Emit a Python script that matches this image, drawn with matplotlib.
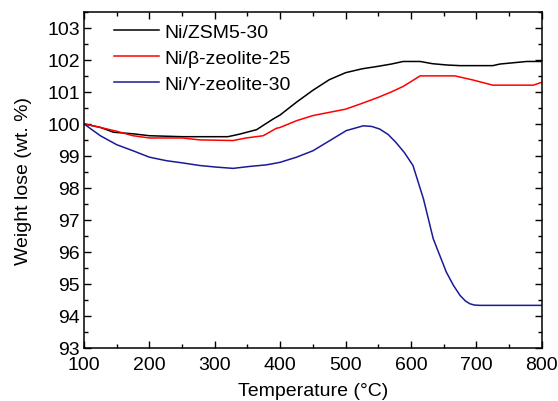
import numpy as np
import matplotlib.pyplot as plt
from matplotlib.ticker import MultipleLocator

plt.rcParams['font.family'] = ['Liberation Sans', 'DejaVu Sans']

# TGA curves
t_zsm5 = [100, 125, 145, 175, 200, 250, 320, 338, 364, 389, 400, 425, 450, 475, 500, 525, 550, 570, 588, 614, 633, 655, 675, 725, 736, 777, 800]
w_zsm5 = [100.0, 99.89, 99.74, 99.69, 99.63, 99.6, 99.6, 99.68, 99.82, 100.15, 100.28, 100.68, 101.05, 101.38, 101.6, 101.72, 101.8, 101.87, 101.95, 101.95, 101.88, 101.84, 101.82, 101.82, 101.87, 101.95, 101.95]

t_beta = [100, 125, 150, 175, 200, 250, 277, 328, 348, 374, 394, 400, 425, 450, 475, 500, 525, 550, 570, 588, 614, 667, 695, 725, 787, 800]
w_beta = [100.0, 99.89, 99.77, 99.63, 99.56, 99.56, 99.5, 99.48, 99.56, 99.63, 99.86, 99.89, 100.1, 100.26, 100.36, 100.46, 100.64, 100.83, 101.0, 101.17, 101.5, 101.5, 101.37, 101.21, 101.21, 101.3]

t_y = [100, 125, 150, 175, 200, 226, 251, 277, 302, 328, 353, 379, 400, 425, 450, 476, 501, 527, 540, 552, 565, 577, 590, 603, 619, 634, 654, 665, 675, 683, 690, 697, 705, 800]
w_y = [100.0, 99.63, 99.35, 99.16, 98.96, 98.85, 98.78, 98.7, 98.65, 98.61, 98.67, 98.72, 98.8, 98.96, 99.16, 99.48, 99.79, 99.94, 99.92, 99.84, 99.67, 99.42, 99.1, 98.7, 97.66, 96.41, 95.37, 94.95, 94.64, 94.47, 94.38, 94.34, 94.33, 94.33]

fig = plt.figure(figsize=(5.58, 4.02), dpi=100)
ax = fig.add_axes([0.1505, 0.132, 0.8205, 0.836])

ax.plot(t_zsm5, w_zsm5, color='black', lw=1.1, label='Ni/ZSM5-30')
ax.plot(t_beta, w_beta, color='#ff0000', lw=1.1, label='Ni/\u03b2-zeolite-25')
ax.plot(t_y, w_y, color='#1a1a99', lw=1.1, label='Ni/Y-zeolite-30')

ax.set_xlim(100, 800)
ax.set_ylim(93, 103.5)
ax.xaxis.set_major_locator(MultipleLocator(100))
ax.xaxis.set_minor_locator(MultipleLocator(50))
ax.yaxis.set_major_locator(MultipleLocator(1))
ax.yaxis.set_minor_locator(MultipleLocator(0.5))
ax.tick_params(which='both', direction='in', top=True, right=True, labelsize=14, width=1)
ax.tick_params(which='major', length=5)
ax.tick_params(which='minor', length=3)
ax.tick_params(axis='x', pad=6)
ax.tick_params(axis='y', pad=3)
for s in ax.spines.values():
    s.set_linewidth(1.1)

ax.set_xlabel('Temperature (\u00b0C)', fontsize=14, labelpad=6)
ax.set_ylabel('Weight lose (wt. %)', fontsize=14, labelpad=11)

ax.legend(loc='upper left', frameon=False, fontsize=14, handlelength=2.3,
          handletextpad=0.3, labelspacing=0.42, bbox_to_anchor=(0.04, 1.0),
          borderaxespad=0.2)

fig.savefig('out.png', dpi=100)
